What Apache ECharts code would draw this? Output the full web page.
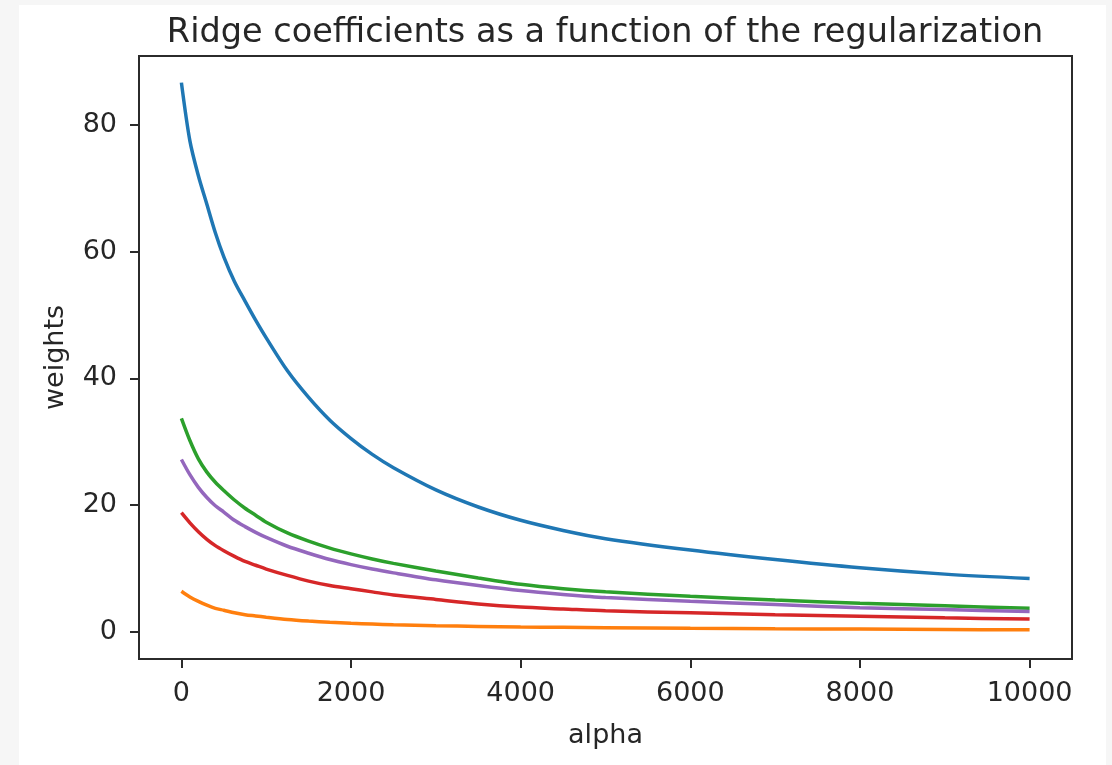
<!DOCTYPE html>
<html>
<head>
<meta charset="utf-8">
<script src="https://cdn.jsdelivr.net/npm/echarts@6/dist/echarts.min.js"></script>
<style>
  html, body { margin: 0; padding: 0; background: #f6f6f6; width: 1112px; height: 765px; overflow: hidden; }
  #card { position: absolute; left: 19px; top: 5px; width: 1087px; height: 760px; background: #ffffff; }
  #chart { position: absolute; left: 0; top: 0; width: 1112px; height: 765px; }
</style>
</head>
<body>
<div id="card"></div>
<div id="chart"></div>
<script>
// alpha sample points (x)
const alphas = [0, 100, 200, 300, 400, 500, 625, 750, 875, 1000, 1250, 1500, 1750, 2000, 2250, 2500, 3000, 3500, 4000, 4500, 5000, 6000, 7000, 8000, 9000, 10000];
// coefficient values
const coefBlue   = [86.7, 77.5, 72.0, 67.5, 63.0, 59.2, 55.3, 52.2, 49.2, 46.4, 41.2, 37.0, 33.4, 30.5, 28.0, 25.9, 22.4, 19.7, 17.6, 16.0, 14.7, 12.9, 11.4, 10.1, 9.1, 8.4];
const coefOrange = [6.4, 5.5, 4.8, 4.2, 3.7, 3.4, 3.0, 2.7, 2.5, 2.3, 1.95, 1.7, 1.5, 1.35, 1.22, 1.1, 0.95, 0.85, 0.75, 0.7, 0.65, 0.55, 0.48, 0.42, 0.36, 0.3];
const coefGreen  = [33.7, 30.2, 27.3, 25.2, 23.6, 22.3, 20.8, 19.5, 18.4, 17.3, 15.6, 14.3, 13.2, 12.3, 11.5, 10.8, 9.6, 8.5, 7.5, 6.8, 6.3, 5.6, 5.0, 4.5, 4.1, 3.7];
const coefRed    = [18.8, 17.2, 15.8, 14.6, 13.6, 12.8, 11.9, 11.1, 10.5, 9.9, 8.9, 8.0, 7.3, 6.8, 6.3, 5.8, 5.1, 4.4, 3.9, 3.6, 3.3, 3.0, 2.7, 2.45, 2.2, 2.0];
const coefPurple = [27.2, 24.8, 22.8, 21.2, 19.9, 18.9, 17.6, 16.6, 15.7, 14.9, 13.5, 12.4, 11.4, 10.6, 9.9, 9.3, 8.2, 7.3, 6.5, 5.9, 5.4, 4.8, 4.3, 3.8, 3.5, 3.2];

const xTicks = [0, 2000, 4000, 6000, 8000, 10000];
const yTicks = [0, 20, 40, 60, 80];

const titleText = 'Ridge coefficients as a function of the regularization';
const xName = 'alpha';
const yName = 'weights';

const seriesDefs = [
  { name: 'c1', data: coefBlue,   color: '#1f77b4' },
  { name: 'c2', data: coefOrange, color: '#ff7f0e' },
  { name: 'c3', data: coefGreen,  color: '#2ca02c' },
  { name: 'c4', data: coefRed,    color: '#d62728' },
  { name: 'c5', data: coefPurple, color: '#9467bd' }
];

const font = 'DejaVu Sans';
const textColor = '#262626';

const chart = echarts.init(document.getElementById('chart'), null, { renderer: 'canvas' });
chart.setOption({
  backgroundColor: 'transparent',
  animation: false,
  title: {
    text: titleText,
    left: 600, top: 11, textAlign: 'center',
    textStyle: { fontFamily: font, fontSize: 33.5, fontWeight: 'normal', color: textColor }
  },
  grid: {
    left: 139, top: 56, width: 933, height: 603,
    show: true, borderColor: '#2b2b2b', borderWidth: 2, backgroundColor: '#fff',
    containLabel: false
  },
  xAxis: {
    type: 'value', min: -500, max: 10500,
    name: xName, nameLocation: 'middle', nameGap: 63,
    nameTextStyle: { fontFamily: font, fontSize: 27, color: textColor },
    axisLine: { show: false, onZero: false },
    splitLine: { show: false },
    axisTick: { show: true, length: 9, lineStyle: { color: '#2b2b2b', width: 2 }, customValues: xTicks },
    axisLabel: { fontFamily: font, fontSize: 27, color: textColor, margin: 21, customValues: xTicks,
                 formatter: v => String(v) }
  },
  yAxis: {
    type: 'value', min: -4.3, max: 90.9,
    name: yName, nameLocation: 'middle', nameGap: 70, nameRotate: 90,
    nameTextStyle: { fontFamily: font, fontSize: 27, color: textColor },
    axisLine: { show: false, onZero: false },
    splitLine: { show: false },
    axisTick: { show: true, length: 9, lineStyle: { color: '#2b2b2b', width: 2 }, customValues: yTicks },
    axisLabel: { fontFamily: font, fontSize: 27, color: textColor, margin: 22, customValues: yTicks,
                 formatter: v => String(v) }
  },
  series: seriesDefs.map(s => ({
    type: 'line',
    name: s.name,
    data: alphas.map((a, i) => [a, s.data[i]]),
    smooth: 0.3,
    showSymbol: false,
    lineStyle: { color: s.color, width: 3.5 },
    itemStyle: { color: s.color }
  }))
});
</script>
</body>
</html>
